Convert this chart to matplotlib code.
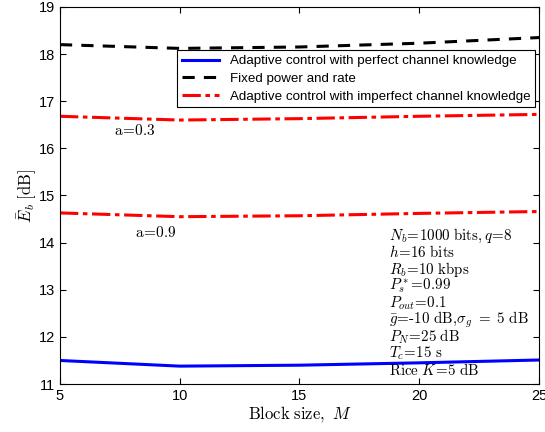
import matplotlib
matplotlib.use("Agg")
import matplotlib.pyplot as plt

plt.rcParams["mathtext.fontset"] = "cm"
plt.rcParams["font.family"] = ["Liberation Sans", "DejaVu Sans"]

block_size = [5, 10, 15, 20, 25]
perfect = [11.50, 11.38, 11.40, 11.45, 11.51]
fixed = [18.20, 18.12, 18.15, 18.23, 18.35]
imperfect_a03 = [16.68, 16.60, 16.63, 16.68, 16.72]
imperfect_a09 = [14.63, 14.55, 14.57, 14.62, 14.66]

params = [
    r"$N_b\!=\!1000\ \mathrm{bits,}q\!=\!8$",
    r"$h\!=\!16\ \mathrm{bits}$",
    r"$R_b\!=\!10\ \mathrm{kbps}$",
    r"$P_s^*\!=\!0.99$",
    r"$P_{out}\!=\!0.1$",
    r"$\bar{g}\!=\!\text{-10 dB,}\sigma_g\ =\ 5\ \mathrm{dB}$",
    r"$P_N\!=\!25\ \mathrm{dB}$",
    r"$T_c\!=\!15\ \mathrm{s}$",
    r"$\mathrm{Rice}\ K\!=\!5\ \mathrm{dB}$",
]

fig = plt.figure(figsize=(5.45, 4.32), dpi=100)
ax = fig.add_axes([0.110, 0.111, 0.879, 0.873])

ax.plot(block_size, perfect, color="#0000ff", lw=2.2,
        label="Adaptive control with perfect channel knowledge")
ax.plot(block_size, fixed, color="black", lw=2.2, linestyle=(0, (4, 3)),
        label="Fixed power and rate")
ax.plot(block_size, imperfect_a03, color="red", lw=2.2, linestyle=(0, (6, 1.5, 1.5, 1.5)),
        label="Adaptive control with imperfect channel knowledge")
ax.plot(block_size, imperfect_a09, color="red", lw=2.2, linestyle=(0, (6, 1.5, 1.5, 1.5)))

ax.set_xlim(5, 25)
ax.set_ylim(11, 19)
ax.set_xticks([5, 10, 15, 20, 25])
ax.set_yticks(range(11, 20))
ax.tick_params(direction="in", top=True, right=True, labelsize=10.5, length=4)
for s in ax.spines.values():
    s.set_linewidth(0.8)

ax.set_xlabel(r"$\mathrm{Block\ size,}\ M$", fontsize=12, labelpad=1)
ax.set_ylabel(r"$\bar{E}_b\ \mathrm{[dB]}$", fontsize=12, labelpad=0)

ax.text(8.1, 16.38, r"$\mathrm{a}\!=\!\mathrm{0.3}$", fontsize=11, ha="center", va="center")
ax.text(9.0, 14.22, r"$\mathrm{a}\!=\!\mathrm{0.9}$", fontsize=11, ha="center", va="center")

y0 = 14.15
for i, p in enumerate(params):
    ax.text(18.75, y0 - i * 0.357, p, fontsize=10.8, va="center", ha="left")

leg = ax.legend(loc="upper left", bbox_to_anchor=(0.244, 0.885), fontsize=9.6,
                frameon=True, fancybox=False, edgecolor="black", framealpha=1,
                handlelength=2.8, borderpad=0.35, labelspacing=0.4, borderaxespad=0)
leg.get_frame().set_linewidth(0.8)

fig.savefig("out.png", dpi=100)
